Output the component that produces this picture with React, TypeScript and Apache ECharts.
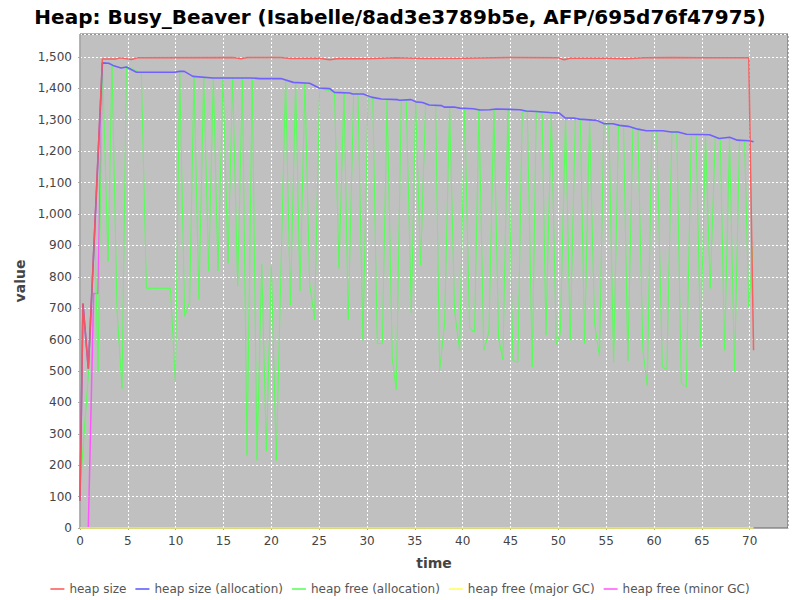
import React, { useEffect, useRef } from "react";
import * as echarts from "echarts";

const TITLE = "Heap: Busy_Beaver (Isabelle/8ad3e3789b5e, AFP/695d76f47975)";
const SERIES_NAMES = [
  "heap size",
  "heap size (allocation)",
  "heap free (allocation)",
  "heap free (major GC)",
  "heap free (minor GC)",
];
const COLORS = ["#ff5555", "#5555ff", "#55ff55", "#ffff55", "#ff55ff"];

const heapSize: [number, number][] = [
  [0, 87], [0.31, 715], [0.87, 507], [2.34, 1493], [3.7, 1493], [4.2, 1497], [5.37, 1492],
  [6, 1497], [16, 1498], [16.8, 1494], [17.5, 1498], [21, 1498], [22, 1495], [25, 1496],
  [26.1, 1491], [27, 1495], [30, 1494], [33, 1497], [36, 1495], [40, 1496], [45, 1498],
  [50, 1497], [50.6, 1491], [51.2, 1496], [55, 1496], [57, 1494], [59, 1497], [62, 1498],
  [65, 1497], [69.9, 1497], [70.4, 566],
];

const heapSizeAlloc: [number, number][] = [
  [0, 87], [0.31, 715], [0.87, 507], [2.34, 1481], [3.0, 1480], [3.45, 1473], [4.3, 1465],
  [4.85, 1468], [5.9, 1451], [9.9, 1451], [10.4, 1454], [10.9, 1454], [11.8, 1438],
  [13.9, 1433], [17.9, 1433], [18.8, 1431], [21.0, 1431], [22.3, 1419], [24.0, 1416],
  [25.0, 1401], [26.1, 1399], [26.6, 1387], [28.2, 1385], [28.5, 1382], [29.6, 1382],
  [30.45, 1372], [31.5, 1366], [33.2, 1364], [33.4, 1362], [34.6, 1364], [35.1, 1357],
  [35.8, 1355], [36.5, 1347], [37.8, 1345], [38.1, 1340], [39.2, 1340], [39.7, 1337],
  [41.1, 1335], [41.8, 1331], [42.8, 1332], [43.5, 1334], [46.0, 1332], [46.6, 1328],
  [47.7, 1326], [49.1, 1323], [50.1, 1321], [50.7, 1306], [51.7, 1305], [52.2, 1302],
  [54.0, 1298], [54.8, 1287], [55.7, 1287], [56.4, 1282], [57.3, 1279], [58.3, 1270],
  [59.2, 1265], [60.9, 1265], [61.8, 1261], [62.5, 1261], [63.4, 1254], [65.8, 1252],
  [66.8, 1240], [67.9, 1244], [68.7, 1235], [69.97, 1233], [70.4, 1230],
];

const heapFreeAlloc: [number, number][] = [
  [0, 119], [0.9, 500], [1.55, 950], [1.88, 497], [2.34, 1491],
  [2.93, 848], [3.34, 1476], [3.87, 694], [4.39, 444], [4.85, 1470],
  [6.41, 1449], [6.94, 763], [9.45, 763], [9.97, 465], [10.42, 1451],
  [10.94, 674], [11.46, 720], [11.91, 1438], [12.43, 728], [12.93, 1436],
  [13.45, 819], [13.94, 1433], [14.42, 819], [14.95, 1435], [15.47, 843],
  [15.95, 1433], [16.48, 771], [16.97, 1433], [17.46, 231], [18.0, 1431],
  [18.5, 215], [18.99, 840], [19.48, 245], [20.0, 834], [20.52, 215],
  [21.49, 1426], [21.99, 710], [22.54, 1419], [22.99, 755], [23.51, 1416],
  [24.0, 779], [24.52, 664], [25.05, 1401], [26.6, 1387], [27.07, 827],
  [27.59, 1385], [28.04, 664], [28.6, 1382], [29.05, 1382], [29.57, 598],
  [30.1, 1372], [30.6, 1370], [31.07, 587], [31.6, 587], [32.1, 1366],
  [32.64, 539], [33.06, 440], [33.58, 1362], [34.1, 1362], [34.63, 685],
  [35.08, 1355], [35.6, 837], [36.12, 1348], [37.17, 1345], [37.59, 502],
  [38.11, 651], [38.63, 1340], [39.15, 691], [39.68, 566], [40.2, 1337],
  [40.72, 635], [41.24, 624], [41.7, 1332], [42.2, 566], [42.74, 624],
  [43.26, 1334], [43.75, 603], [44.2, 536], [44.72, 1332], [45.25, 534],
  [45.77, 528], [46.22, 1330], [46.75, 1329], [47.27, 513], [47.69, 1327],
  [48.3, 1323], [48.7, 614], [49.26, 1323], [49.78, 585], [50.2, 619],
  [50.75, 1305], [51.24, 598], [51.77, 1305], [52.29, 1302], [52.74, 589],
  [53.26, 1300], [53.78, 651], [54.3, 547], [54.75, 1287], [55.28, 1287],
  [55.77, 526], [56.29, 1282], [56.81, 1280], [57.26, 532], [57.79, 1276],
  [58.31, 1270], [58.83, 566], [59.29, 454], [59.77, 1265], [60.29, 1265],
  [60.86, 513], [61.34, 504], [61.86, 1260], [62.38, 1260], [62.84, 462],
  [63.37, 449], [63.89, 1254], [64.4, 1252], [64.86, 577], [65.38, 1249],
  [65.87, 763], [66.4, 1244], [66.92, 1240], [67.37, 566], [67.89, 1241],
  [68.41, 497], [68.93, 1233], [69.46, 1233], [69.9, 704], [70.4, 912],
];

const heapFreeMajor: [number, number][] = [[0, 0], [70.4, 0]];

const heapFreeMinor: [number, number][] = [
  [0.87, 2], [1.43, 747], [1.88, 747], [2.34, 1481],
];

const X_MAX = 74;
const Y_MAX = 1573;

const FONT = "DejaVu Sans";

export default function App() {
  const ref = useRef<HTMLDivElement>(null);
  useEffect(() => {
    if (!ref.current) return;
    const chart = echarts.init(ref.current, undefined, { renderer: "svg" });
    const lineSeries = (
      idx: number,
      data: [number, number][],
      width: number,
      color?: string,
      opacity = 1
    ) => ({
      name: SERIES_NAMES[idx],
      type: "line",
      data,
      showSymbol: false,
      symbol: "none",
      itemStyle: { color: COLORS[idx] },
      lineStyle: { color: color || COLORS[idx], width, opacity },
      emphasis: { disabled: true },
    });
    chart.setOption({
      animation: false,
      backgroundColor: "#ffffff",
      title: {
        text: TITLE,
        left: "center",
        top: 2,
        textStyle: { fontFamily: FONT, fontSize: 20, fontWeight: "bold", color: "#000" },
      },
      legend: {
        bottom: 0,
        left: "center",
        icon: "rect",
        itemWidth: 14,
        itemHeight: 1.5,
        itemGap: 9,
        textStyle: { fontFamily: FONT, fontSize: 12, color: "#555" },
        data: SERIES_NAMES.map((n, i) => ({
          name: n,
          itemStyle: { color: COLORS[i] },
        })),
      },
      grid: {
        left: 80,
        right: 12,
        top: 34,
        bottom: 72,
        show: true,
        backgroundColor: "#c0c0c0",
        borderColor: "#666",
        borderWidth: 1,
      },
      xAxis: {
        type: "value",
        min: 0,
        max: X_MAX,
        interval: 5,
        offset: 3,
        name: "time",
        nameLocation: "middle",
        nameGap: 25,
        nameTextStyle: { fontFamily: FONT, fontSize: 14, fontWeight: "bold", color: "#444" },
        axisLine: { show: true, lineStyle: { color: "#aaa", width: 1 } },
        axisTick: { show: true, length: 2, lineStyle: { color: "#aaa" } },
        axisLabel: {
          fontFamily: FONT,
          fontSize: 12,
          color: "#444",
          margin: 4,
          showMaxLabel: false,
          formatter: (v: number) => (v % 5 === 0 ? String(v) : ""),
        },
        splitLine: { show: true, lineStyle: { color: "#ffffff", type: [2, 2], width: 1 } },
      },
      yAxis: {
        type: "value",
        min: 0,
        max: Y_MAX,
        interval: 100,
        offset: 3,
        name: "value",
        nameLocation: "middle",
        nameGap: 50,
        nameTextStyle: { fontFamily: FONT, fontSize: 14, fontWeight: "bold", color: "#444" },
        axisLine: { show: true, lineStyle: { color: "#aaa", width: 1 } },
        axisTick: { show: true, length: 2, lineStyle: { color: "#aaa" } },
        axisLabel: {
          fontFamily: FONT,
          fontSize: 12,
          color: "#444",
          margin: 5,
          showMaxLabel: false,
          formatter: (v: number) =>
            v % 100 === 0 ? v.toLocaleString("en-US") : "",
        },
        splitLine: { show: true, lineStyle: { color: "#ffffff", type: [2, 2], width: 1 } },
      },
      series: [
        lineSeries(4, heapFreeMinor, 1.5),
        lineSeries(3, heapFreeMajor, 1.5),
        lineSeries(2, heapFreeAlloc, 1),
        lineSeries(1, heapSizeAlloc, 1.6, "#7060ff"),
        lineSeries(0, heapSize, 1.5, "#ff5555", 0.9),
      ],
    });
    return () => chart.dispose();
  }, []);
  return (
    <div
      ref={ref}
      style={{ position: "fixed", left: 0, top: 0, width: 800, height: 600 }}
    />
  );
}
